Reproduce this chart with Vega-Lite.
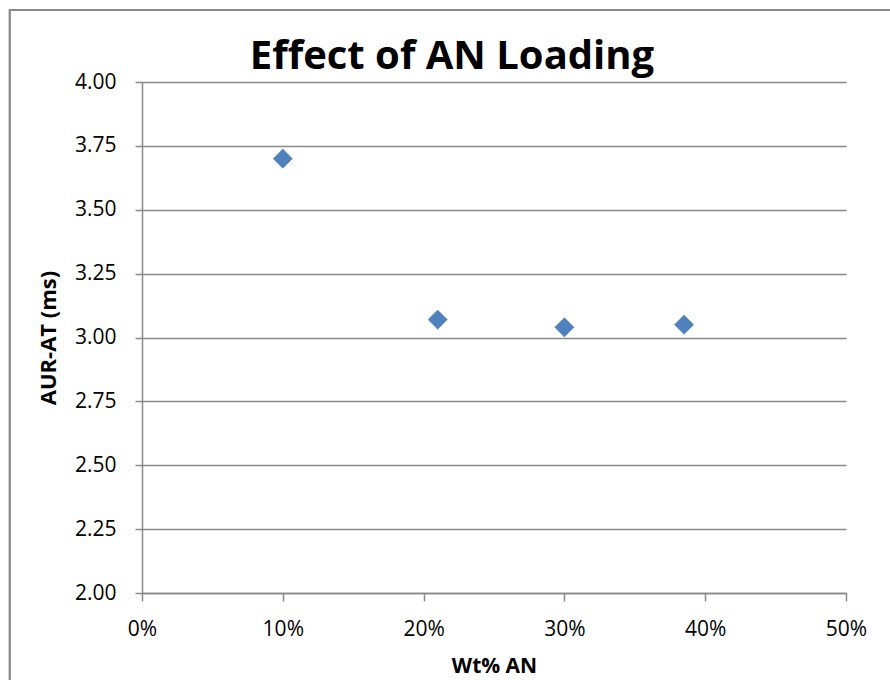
{
  "$schema": "https://vega.github.io/schema/vega-lite/v6.json",
  "width": 704,
  "height": 511,
  "autosize": {"type": "none"},
  "padding": {"left": 142, "top": 82, "right": 44, "bottom": 87},
  "background": "white",
  "title": {
    "text": "Effect of AN Loading",
    "font": "Open Sans",
    "fontSize": 40,
    "fontWeight": "bold",
    "color": "black",
    "anchor": "middle",
    "frame": "group",
    "baseline": "alphabetic",
    "offset": -100,
    "dx": -42
  },
  "config": {
    "view": {"stroke": null},
    "axis": {
      "labelFont": "Open Sans",
      "labelFontSize": 21,
      "labelColor": "black",
      "titleFont": "Open Sans",
      "titleFontSize": 21,
      "titleFontWeight": "bold",
      "titleColor": "black",
      "domainColor": "#898989",
      "domainWidth": 1.5,
      "tickColor": "#898989",
      "tickWidth": 1.5,
      "gridColor": "#898989",
      "gridWidth": 1.5,
      "gridOpacity": 1
    }
  },
  "data": {
    "values": [
      {"wt": 0.10, "aur": 3.70},
      {"wt": 0.21, "aur": 3.07},
      {"wt": 0.30, "aur": 3.04},
      {"wt": 0.385, "aur": 3.05}
    ]
  },
  "layer": [
    {
      "mark": {"type": "rect", "fill": null, "stroke": "#898989", "strokeWidth": 1.5, "clip": false},
      "encoding": {
        "x": {"datum": -0.094, "type": "quantitative", "scale": {"domain": [0, 0.5]}},
        "x2": {"datum": 0.56},
        "y": {"datum": 4.282, "type": "quantitative", "scale": {"domain": [2, 4]}},
        "y2": {"datum": 1.55}
      }
    },
    {
      "mark": {"type": "point", "shape": "diamond", "filled": true, "size": 370, "color": "#4F81BD", "opacity": 1, "stroke": "#4A7DBA", "strokeWidth": 0.5},
      "encoding": {
        "x": {
          "field": "wt",
          "type": "quantitative",
          "scale": {"domain": [0, 0.5], "nice": false, "zero": false},
          "axis": {
            "title": "Wt% AN",
            "format": ".0%",
            "values": [0, 0.1, 0.2, 0.3, 0.4, 0.5],
            "grid": false,
            "labelFlush": false,
            "tickSize": 8,
            "labelPadding": 17,
            "titlePadding": 16
          }
        },
        "y": {
          "field": "aur",
          "type": "quantitative",
          "scale": {"domain": [2, 4], "nice": false, "zero": false},
          "axis": {
            "title": "AUR-AT (ms)",
            "titleFontSize": 22,
            "format": ".2f",
            "values": [2, 2.25, 2.5, 2.75, 3, 3.25, 3.5, 3.75, 4],
            "grid": true,
            "labelFlush": false,
            "tickSize": 7,
            "labelPadding": 19,
            "titlePadding": 14
          }
        }
      }
    }
  ]
}
